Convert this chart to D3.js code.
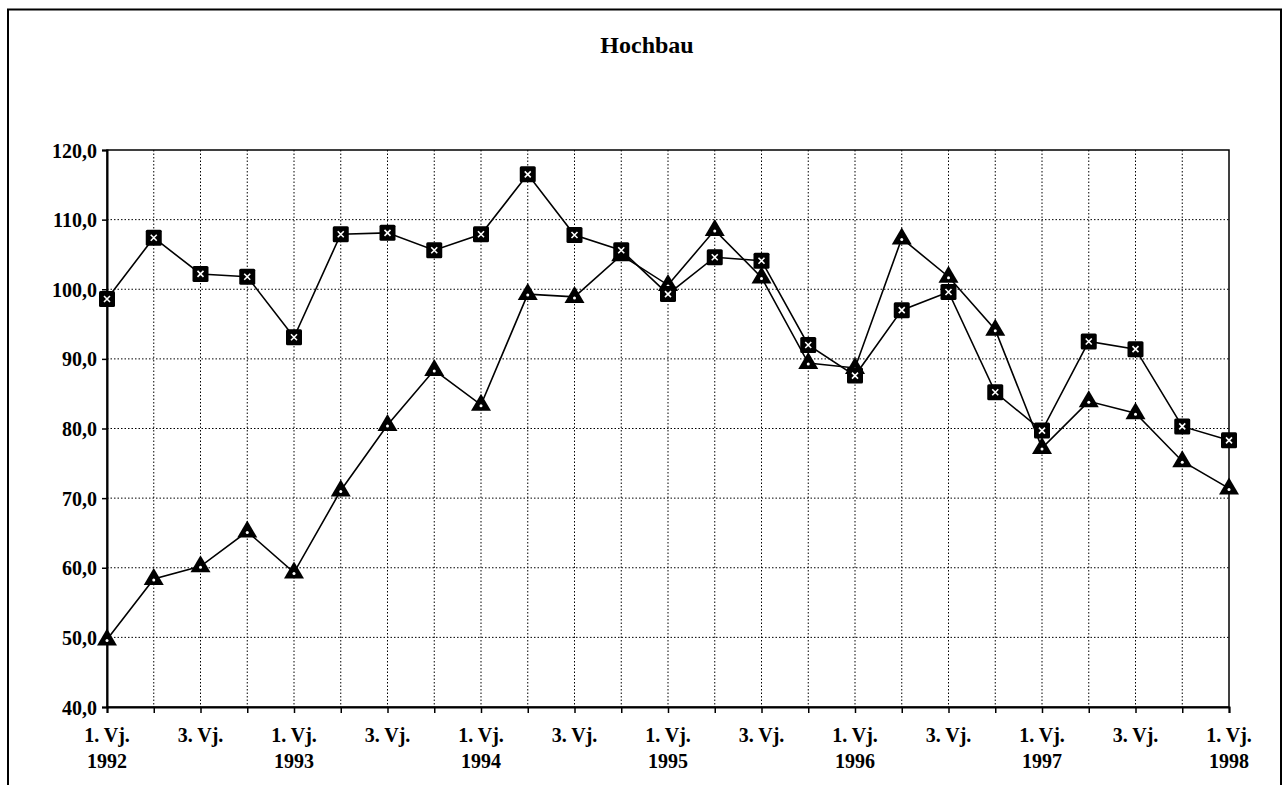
<!DOCTYPE html>
<html><head><meta charset="utf-8">
<script src="https://cdn.jsdelivr.net/npm/d3@7"></script>
<style>
body{margin:0;background:#fff;}
text{font-family:"Liberation Serif","Times New Roman",serif;font-weight:bold;fill:#000;}
</style></head>
<body><svg id="c" width="1286" height="785"></svg>
<script>
const title = "Hochbau";
const quarters = ["1. Vj.|1992","2. Vj.|1992","3. Vj.|1992","4. Vj.|1992",
 "1. Vj.|1993","2. Vj.|1993","3. Vj.|1993","4. Vj.|1993",
 "1. Vj.|1994","2. Vj.|1994","3. Vj.|1994","4. Vj.|1994",
 "1. Vj.|1995","2. Vj.|1995","3. Vj.|1995","4. Vj.|1995",
 "1. Vj.|1996","2. Vj.|1996","3. Vj.|1996","4. Vj.|1996",
 "1. Vj.|1997","2. Vj.|1997","3. Vj.|1997","4. Vj.|1997",
 "1. Vj.|1998"];
const seriesSquare = [98.6,107.4,102.2,101.8,93.1,107.9,108.1,105.6,107.9,116.5,107.8,105.6,99.3,104.6,104.1,92.0,87.6,97.0,99.6,85.2,79.7,92.5,91.4,80.3,78.3];
const seriesTriangle = [49.7,58.4,60.2,65.2,59.3,71.1,80.5,88.4,83.4,99.3,98.9,104.9,100.6,108.5,101.7,89.4,88.7,107.3,101.8,94.2,77.2,83.9,82.2,75.3,71.4];
const yTicks = [40,50,60,70,80,90,100,110,120];

const svg = d3.select("#c");
const L=107, R=1229, T=150, B=707;

// outer frame
svg.append("path").attr("d","M8,790 L8,9.5 L1281,9.5 L1281,790")
  .attr("fill","none").attr("stroke","#000").attr("stroke-width",2);

svg.append("text").attr("x",647).attr("y",53).attr("text-anchor","middle")
  .style("font-size","24px").text(title);

const x = d3.scalePoint().domain(d3.range(quarters.length)).range([L,R]);
const y = d3.scaleLinear().domain([40,120]).range([B,T]);

// grid
const g = svg.append("g");
g.selectAll(".hg").data(yTicks.filter(v=>v>40&&v<120)).enter().append("line")
  .attr("x1",L).attr("x2",R).attr("y1",d=>y(d)).attr("y2",d=>y(d))
  .attr("stroke","#000").attr("stroke-width",1).attr("stroke-dasharray","1.5,2");
g.selectAll(".vg").data(d3.range(1,quarters.length-1)).enter().append("line")
  .attr("y1",T).attr("y2",B).attr("x1",d=>x(d)).attr("x2",d=>x(d))
  .attr("stroke","#000").attr("stroke-width",1).attr("stroke-dasharray","1.5,2");

// plot border
svg.append("rect").attr("x",L).attr("y",T).attr("width",R-L).attr("height",B-T)
  .attr("fill","none").attr("stroke","#000").attr("stroke-width",1.5);

// y axis
const yAxis = d3.axisLeft(y).tickValues(yTicks).tickSize(5).tickPadding(5)
  .tickFormat(d=>d3.format(".1f")(d).replace(".",","));
const ya = svg.append("g").attr("transform",`translate(${L},0)`).call(yAxis);
ya.attr("font-size",null).attr("font-family",null);
ya.select(".domain").attr("stroke","#000").attr("stroke-width",2);
ya.selectAll(".tick line").attr("stroke","#000").attr("stroke-width",1.5);
ya.selectAll("text").style("font-size","20px").attr("dy","0.35em");

// x axis
const xAxis = d3.axisBottom(x).tickSize(6).tickFormat(()=>"");
const xa = svg.append("g").attr("transform",`translate(0,${B})`).call(xAxis);
xa.select(".domain").attr("stroke","#000").attr("stroke-width",2);
xa.selectAll(".tick line").attr("stroke","#000").attr("stroke-width",1.5);
const lab = svg.append("g");
quarters.forEach((q,i)=>{
  if(i%2) return;
  const [a,b] = q.split("|");
  lab.append("text").attr("x",x(i)).attr("y",742).attr("text-anchor","middle").style("font-size","20px").text(a);
  if(i%4===0) lab.append("text").attr("x",x(i)).attr("y",768).attr("text-anchor","middle").style("font-size","20px").text(b);
});

const line = d3.line().x((d,i)=>x(i)).y(d=>y(d));
svg.append("path").datum(seriesTriangle).attr("d",line).attr("fill","none").attr("stroke","#000").attr("stroke-width",1.6);
svg.append("path").datum(seriesSquare).attr("d",line).attr("fill","none").attr("stroke","#000").attr("stroke-width",1.6);

// triangle markers
const tri = svg.append("g");
seriesTriangle.forEach((v,i)=>{
  const cx=x(i), cy=y(v);
  tri.append("path").attr("d",`M${cx},${cy-11} L${cx+10},${cy+6} L${cx-10},${cy+6} Z`).attr("fill","#000");
  tri.append("circle").attr("cx",cx).attr("cy",cy+1).attr("r",1.5).attr("fill","#fff");
});
// square markers
const sq = svg.append("g");
seriesSquare.forEach((v,i)=>{
  const cx=x(i), cy=y(v);
  sq.append("rect").attr("x",cx-8).attr("y",cy-8).attr("width",16).attr("height",16).attr("rx",1.5).attr("fill","#000");
  sq.append("path").attr("d",`M${cx-3},${cy-3} L${cx+3},${cy+3} M${cx+3},${cy-3} L${cx-3},${cy+3}`)
    .attr("stroke","#fff").attr("stroke-width",1.6);
});
</script></body></html>
